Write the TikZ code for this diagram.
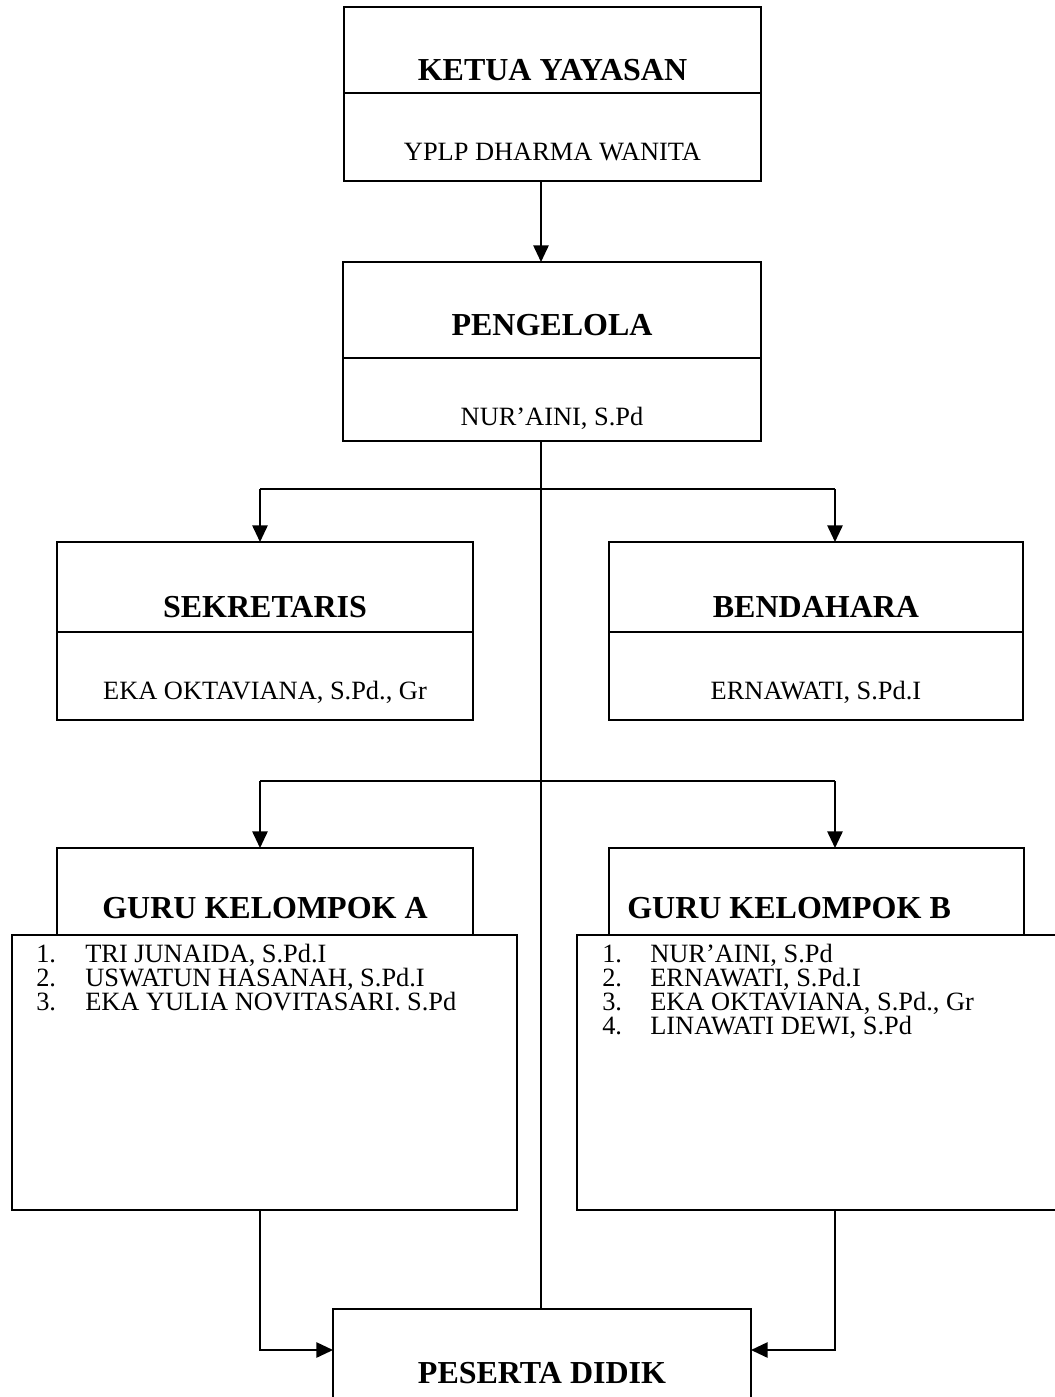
\documentclass[tikz,border=0pt]{standalone}
\usepackage{fontspec}
\setmainfont{Liberation Serif}
\usetikzlibrary{arrows.meta}
\newdimen\pxu \pxu=0.75pt
\tikzset{
  box/.style={draw, line width=1.3pt, inner sep=0pt, outer sep=0pt, anchor=north west},
  hd/.style={font=\bfseries\fontsize{24}{28}\selectfont, anchor=base, inner sep=0pt},
  nm/.style={font=\fontsize{19.8}{24}\selectfont, anchor=base, inner sep=0pt},
  li/.style={font=\fontsize{19.8}{24}\selectfont, anchor=base west, inner sep=0pt},
  conn/.style={line width=1.3pt},
  spine/.style={line width=0.9pt},
  arr/.style={conn, -{Triangle[length=12.5pt,width=11.5pt]}},
}
\begin{document}
\begin{tikzpicture}[x=0.75pt, y=-0.75pt]
\useasboundingbox (0,0) rectangle (1055,1397);
\clip (0,0) rectangle (1055,1397);
% boxes
\node[box, minimum width=417*\pxu, minimum height=86*\pxu] (ketuaH) at (344,7) {};
\node[box, minimum width=417*\pxu, minimum height=88*\pxu] (ketuaN) at (344,93) {};
\node[box, minimum width=418*\pxu, minimum height=96*\pxu] (pengH) at (343,262) {};
\node[box, minimum width=418*\pxu, minimum height=83*\pxu] (pengN) at (343,358) {};
\node[box, minimum width=416*\pxu, minimum height=90*\pxu] (sekH) at (57,542) {};
\node[box, minimum width=416*\pxu, minimum height=88*\pxu] (sekN) at (57,632) {};
\node[box, minimum width=414*\pxu, minimum height=90*\pxu] (benH) at (609,542) {};
\node[box, minimum width=414*\pxu, minimum height=88*\pxu] (benN) at (609,632) {};
\node[box, minimum width=416*\pxu, minimum height=87*\pxu] (guruAH) at (57,848) {};
\node[box, minimum width=505*\pxu, minimum height=275*\pxu] (guruAL) at (12,935) {};
\node[box, minimum width=415*\pxu, minimum height=87*\pxu] (guruBH) at (609,848) {};
\node[box, minimum width=500*\pxu, minimum height=275*\pxu] (guruBL) at (577,935) {};
\node[box, minimum width=418*\pxu, minimum height=130*\pxu] (pes) at (333,1309) {};
% texts
\node[hd] (tKetua) at (552.5,80) {KETUA YAYASAN};
\node[nm] (nKetua) at (552.5,160) {YPLP DHARMA WANITA};
\node[hd] (tPeng) at (552,335) {PENGELOLA};
\node[nm] (nPeng) at (552,425) {NUR’AINI, S.Pd};
\node[hd] (tSek) at (265,617) {SEKRETARIS};
\node[nm] (nSek) at (265,699) {EKA OKTAVIANA, S.Pd., Gr};
\node[hd] (tBen) at (816,617) {BENDAHARA};
\node[nm] (nBen) at (816,699) {ERNAWATI, S.Pd.I};
\node[hd] (tGuruA) at (265,918) {GURU KELOMPOK A};
\node[hd, anchor=base west] (tGuruB) at (627,918) {GURU KELOMPOK B};
\node[li] (a1n) at (36,962) {1.};
\node[li] (a1) at (85,962) {TRI JUNAIDA, S.Pd.I};
\node[li] (a2n) at (36,986) {2.};
\node[li] (a2) at (85,986) {USWATUN HASANAH, S.Pd.I};
\node[li] (a3n) at (36,1010) {3.};
\node[li] (a3) at (85,1010) {EKA YULIA NOVITASARI. S.Pd};
\node[li] (b1n) at (602,962) {1.};
\node[li] (b1) at (650,962) {NUR’AINI, S.Pd};
\node[li] (b2n) at (602,986) {2.};
\node[li] (b2) at (650,986) {ERNAWATI, S.Pd.I};
\node[li] (b3n) at (602,1010) {3.};
\node[li] (b3) at (650,1010) {EKA OKTAVIANA, S.Pd., Gr};
\node[li] (b4n) at (602,1034) {4.};
\node[li] (b4) at (650,1034) {LINAWATI DEWI, S.Pd};
\node[hd] (tPes) at (542,1383) {PESERTA DIDIK};
% helper coordinates
\coordinate (sp) at (541,0);
\coordinate (xl) at (260,0);
\coordinate (xr) at (835,0);
\coordinate (y1) at (0,489);
\coordinate (y2) at (0,781);
\coordinate (yb) at (0,1350);
% connectors
\draw[arr] (ketuaN.south -| sp) -- (pengH.north -| sp);
\draw[spine] (pengN.south -| sp) -- (pes.north -| sp);
\draw[conn] (xl |- y1) -- (xr |- y1);
\draw[arr] (xl |- y1) -- (sekH.north -| xl);
\draw[arr] (xr |- y1) -- (benH.north -| xr);
\draw[conn] (xl |- y2) -- (xr |- y2);
\draw[arr] (xl |- y2) -- (guruAH.north -| xl);
\draw[arr] (xr |- y2) -- (guruBH.north -| xr);
\draw[arr] (guruAL.south -| xl) |- (yb -| pes.west);
\draw[arr] (guruBL.south -| xr) |- (yb -| pes.east);
\end{tikzpicture}
\end{document}
